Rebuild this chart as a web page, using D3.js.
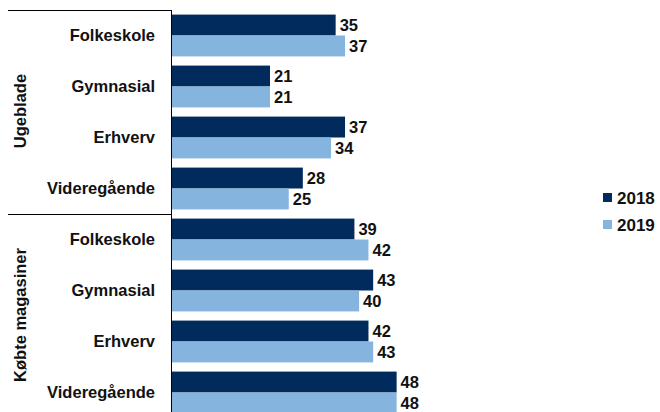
<!DOCTYPE html>
<html>
<head>
<meta charset="utf-8">
<script src="https://cdn.jsdelivr.net/npm/d3@7"></script>
<style>
  html, body { margin: 0; padding: 0; background: #fff; }
  svg { display: block; }
  .cat { font-family: "Liberation Sans", Arial, sans-serif; font-weight: bold; font-size: 16.5px; fill: #111; }
  .grp { font-family: "Liberation Sans", Arial, sans-serif; font-weight: bold; font-size: 16.5px; fill: #111; }
  .val { font-family: "Liberation Sans", Arial, sans-serif; font-weight: bold; font-size: 16.5px; fill: #111; }
  .leg { font-family: "Liberation Sans", Arial, sans-serif; font-weight: bold; font-size: 17px; fill: #111; }
</style>
</head>
<body>
<svg id="chart" width="660" height="412"></svg>
<script>
// Reading of weekly magazines vs. bought magazines, by education level
const groups = ["Ugeblade", "Købte magasiner"];
const categories = ["Folkeskole", "Gymnasial", "Erhverv", "Videregående"];
const years = ["2018", "2019"];
const values2018 = [35, 21, 37, 28, 39, 43, 42, 48];
const values2019 = [37, 21, 34, 25, 42, 40, 43, 48];
const colors = ["#002B5C", "#85B4DF"];

const rows = [];
groups.forEach((g, gi) => {
  categories.forEach((c, ci) => {
    const i = gi * categories.length + ci;
    rows.push({ key: g + "|" + c, group: g, cat: c, v: [values2018[i], values2019[i]] });
  });
});

const svg = d3.select("#chart");
const axisX = 171.5;
const plotTop = 10;

const x = d3.scaleLinear().domain([0, 100]).range([axisX, axisX + 469]);
const y0 = d3.scaleBand().domain(rows.map(r => r.key)).range([plotTop, plotTop + 51 * 8])
  .paddingInner(0.18).paddingOuter(0.09);
const y1 = d3.scaleBand().domain(years).range([0, y0.bandwidth()]);

const row = svg.selectAll("g.row").data(rows).join("g")
  .attr("class", "row")
  .attr("transform", d => `translate(0,${y0(d.key)})`);

row.selectAll("rect").data(d => d.v.map((v, i) => ({ v, yr: years[i], i }))).join("rect")
  .attr("x", x(0))
  .attr("y", d => y1(d.yr))
  .attr("width", d => x(d.v) - x(0))
  .attr("height", y1.bandwidth())
  .attr("fill", d => colors[d.i]);

row.selectAll("text.val").data(d => d.v.map((v, i) => ({ v, yr: years[i] }))).join("text")
  .attr("class", "val")
  .attr("x", d => x(d.v) + 4)
  .attr("y", d => y1(d.yr) + y1.bandwidth() / 2)
  .attr("dy", "0.36em")
  .text(d => d.v);

// category labels
row.append("text")
  .attr("class", "cat")
  .attr("x", 155)
  .attr("y", y0.bandwidth() / 2)
  .attr("dy", "0.36em")
  .attr("text-anchor", "end")
  .text(d => d.cat);

// group separators and vertical axis
const step = y0.step();
const groupStart = g => plotTop + groups.indexOf(g) * categories.length * step;
svg.selectAll("line.sep").data(groups).join("line")
  .attr("class", "sep")
  .attr("x1", 8).attr("x2", axisX)
  .attr("y1", d => groupStart(d) + 0.5).attr("y2", d => groupStart(d) + 0.5)
  .attr("stroke", "#000").attr("stroke-width", 1);

svg.append("line")
  .attr("x1", axisX).attr("x2", axisX)
  .attr("y1", plotTop).attr("y2", 412)
  .attr("stroke", "#000").attr("stroke-width", 1);

svg.selectAll("text.grp").data(groups).join("text")
  .attr("class", "grp")
  .attr("text-anchor", "middle")
  .attr("transform", d => `translate(26,${groupStart(d) + categories.length * step / 2 - 1}) rotate(-90)`)
  .text(d => d);

// legend
const leg = svg.selectAll("g.leg").data(years).join("g")
  .attr("class", "leg")
  .attr("transform", (d, i) => `translate(603,${193 + i * 27})`);
leg.append("rect").attr("width", 9).attr("height", 9).attr("fill", (d, i) => colors[i]);
leg.append("text").attr("class", "leg").attr("x", 14).attr("y", 4.5).attr("dy", "0.36em").text(d => d);
</script>
</body>
</html>
